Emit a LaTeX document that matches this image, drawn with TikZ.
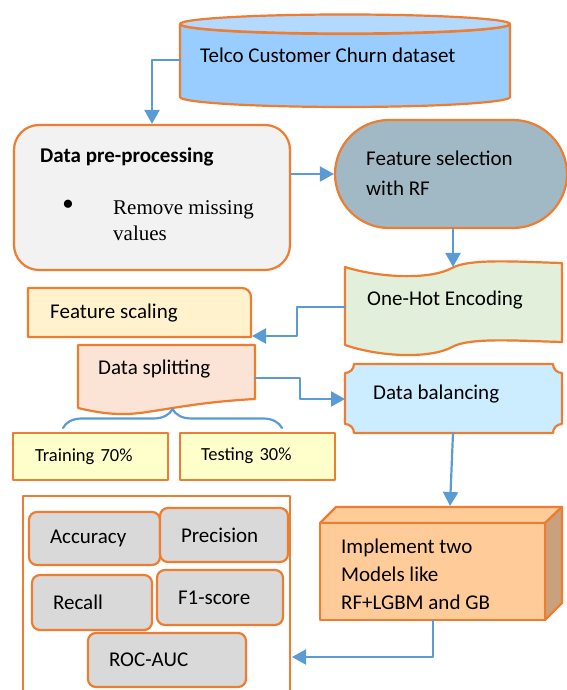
\documentclass[tikz,border=0pt]{standalone}
\usepackage{fontspec}
\setmainfont{Carlito}
\newfontfamily\serifpart{Liberation Serif}
\usetikzlibrary{arrows.meta}
\usetikzlibrary{shapes.misc}
\usetikzlibrary{decorations.pathreplacing}

\definecolor{orangeline}{HTML}{ED7D31}
\definecolor{blueline}{HTML}{5B9BD5}
\definecolor{cylbody}{HTML}{99CCFF}
\definecolor{cyltop}{HTML}{B3D9FF}
\definecolor{pregray}{HTML}{F2F2F2}
\definecolor{fselfill}{HTML}{A0B9C4}
\definecolor{ohefill}{HTML}{E2EFDA}
\definecolor{scalefill}{HTML}{FFF2CC}
\definecolor{splitfill}{HTML}{FBE3D6}
\definecolor{trainfill}{HTML}{FFFFCC}
\definecolor{balfill}{HTML}{CCECFF}
\definecolor{cubefront}{HTML}{FFCC99}
\definecolor{cubeside}{HTML}{C9A17C}
\definecolor{metricgray}{HTML}{D9D9D9}

\begin{document}
\begin{tikzpicture}[line cap=round,line join=round,>={Triangle[length=14pt,width=15pt]},x=1pt,y=1pt,
  box/.style={draw=orangeline,line width=2.2pt},
  lbl/.style={anchor=west,inner sep=0pt,align=left,font=\fontsize{21}{30}\selectfont},
  flow/.style={draw=blueline,line width=2.2pt,->},
  metric/.style={box,fill=metricgray,rounded corners=8pt,inner xsep=21pt,inner ysep=0pt,align=left,font=\fontsize{21}{26}\selectfont},
  part/.style={box,fill=trainfill,inner ysep=0pt,align=left,font=\fontsize{18.5}{22}\selectfont}]
\useasboundingbox (0,0) rectangle (566,690);

% dataset cylinder
\draw[box,fill=cylbody] (180,666) -- (180,593) arc[start angle=180,end angle=360,x radius=165pt,y radius=10pt] -- (510,666) arc[start angle=0,end angle=-180,x radius=165pt,y radius=10pt] -- cycle;
\draw[box,fill=cyltop] (345,666) ellipse[x radius=165pt,y radius=9.5pt];
\node[lbl] (data) at (200,635) {Telco Customer Churn dataset};
\coordinate (cylW) at (180,630);

% pre-processing
\node[box,fill=pregray,rounded corners=25pt,minimum width=276pt,minimum height=145pt,inner sep=0pt] (pre) at (152,492.5) {};
\node[lbl,font=\fontsize{21}{30}\selectfont\bfseries] (preT) at (40,533) {Data pre-processing};
\node[inner sep=0pt,font=\serifpart\fontsize{34}{34}\selectfont] (bul) at (68,482) {\textbullet};
\node[lbl,font=\serifpart\fontsize{21}{26}\selectfont] (preB) at (113,469) {Remove missing\\values};

% feature selection
\node[box,fill=fselfill,rounded rectangle,minimum width=232pt,minimum height=108pt,inner sep=0pt] (fsel) at (451,516) {};
\node[lbl] (fselT) at (366,517) {Feature selection\\with RF};

% one-hot encoding
\draw[box,fill=ohefill] (345,423) .. controls (380,412) and (430,410) .. (452,422) .. controls (470,432) and (520,428) .. (562,427) -- (562,348) .. controls (520,349) and (470,353) .. (452,343) .. controls (430,331) and (380,333) .. (345,345) -- cycle;
\node[lbl] (ohe) at (367,390) {One-Hot Encoding};
\coordinate (oheN) at (453,423);
\coordinate (oheW) at (345,383);

% feature scaling
\draw[box,fill=scalefill] (251,353) -- (28,353) -- (28,402) [rounded corners=9pt]-- (251,402) [sharp corners]-- cycle;
\node[lbl] (fscale) at (50,377) {Feature scaling};
\coordinate (fscE) at (252,354);

% data splitting
\draw[box,fill=splitfill] (78,282) -- (78,345) -- (255,345) -- (255,291) .. controls (200,288) and (170,281) .. (140,277) .. controls (115,274) and (95,278) .. (78,282);
\node[lbl] (split) at (98,321) {Data splitting};
\coordinate (splitE) at (255,312);
\draw[blueline,line width=2.2pt,decorate,decoration={brace,amplitude=19pt}] (63,262) -- (282,262);

\node[part,inner xsep=22pt,text width=111pt,minimum height=47pt] (train) at (90.5,233.5) {Training 70\%};
\node[part,inner xsep=21pt,text width=113pt,minimum height=47pt] (test) at (257.5,233.5) {\raisebox{4pt}{Testing 30\%}};

% data balancing
\draw[box,fill=balfill] (354,326) -- (553,326) arc[start angle=180,end angle=270,radius=9pt] -- (562,266) arc[start angle=90,end angle=180,radius=9pt] -- (354,257) arc[start angle=0,end angle=90,radius=9pt] -- (345,317) arc[start angle=270,end angle=360,radius=9pt] -- cycle;
\node[lbl] (bal) at (373,296) {Data balancing};
\coordinate (balW) at (345,291);
\coordinate (balS) at (453,257);

% models cube
\draw[box,fill=cubefront] (320,167) -- (336,183) -- (562,183) -- (545,167) -- cycle;
\draw[box,fill=cubeside] (545,167) -- (562,183) -- (562,87) -- (545,70) -- cycle;
\draw[box,fill=cubefront] (320,70) rectangle (545,167);
\node[lbl,font=\fontsize{21}{28}\selectfont] (model) at (341,116) {Implement two\\Models like\\RF+LGBM and GB};
\coordinate (cubeN) at (450,184);
\coordinate (cubeS) at (433,70);

% evaluation
\node[box,fill=white,minimum width=267pt,minimum height=204pt,inner sep=0pt] (eval) at (156.5,92) {};
\coordinate (evalE) at (292,33);
\node[metric,text width=89pt,minimum height=53pt] (acc) at (94.5,151.5) {Accuracy};
\node[metric,text width=86pt,minimum height=54pt] (prec) at (224,155) {Precision};
\node[metric,text width=78pt,minimum height=55pt] (rec) at (92,87.5) {Recall};
\node[metric,text width=84pt,minimum height=55pt] (fone) at (220,92.5) {F1-score};
\node[metric,text width=116pt,minimum height=54pt] (roc) at (167,30) {ROC-AUC};

% connectors
\draw[flow] (cylW) -| (pre.north);
\draw[flow] (pre.east |- fsel.west) -- (fsel.west);
\draw[flow] (fsel.south -| oheN) -- (oheN);
\draw[flow] (oheW) -- ++(-48,0) |- (fscE);
\draw[flow] (splitE) -- ++(45,0) |- (balW);
\draw[flow] (balS) -- (cubeN);
\draw[flow] (cubeS) |- (evalE);
\end{tikzpicture}
\end{document}
